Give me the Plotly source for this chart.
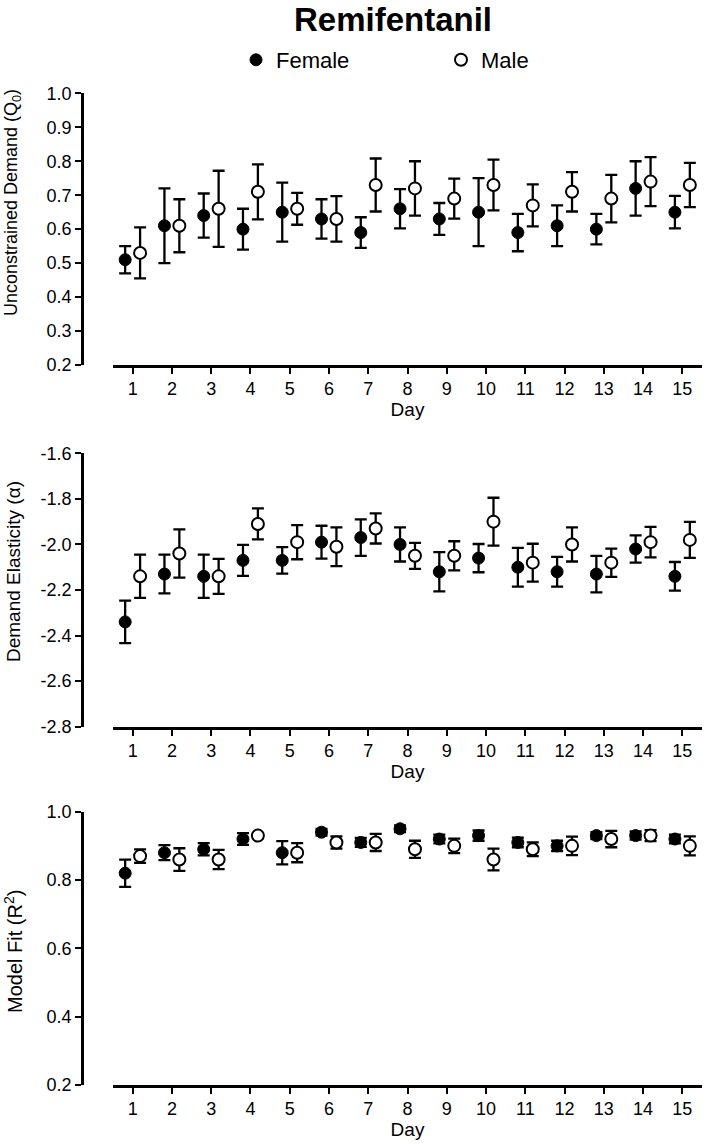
import plotly.graph_objects as go

# ---- data (mean +/- SEM) ----
days = list(range(1, 16))
day_labels = [str(d) for d in days]

q0_female = [0.51, 0.61, 0.64, 0.60, 0.65, 0.63, 0.59, 0.66, 0.63, 0.65, 0.59, 0.61, 0.60, 0.72, 0.65]
q0_female_sem = [0.04, 0.11, 0.065, 0.06, 0.087, 0.058, 0.045, 0.058, 0.047, 0.10, 0.055, 0.06, 0.045, 0.08, 0.048]
q0_male = [0.53, 0.61, 0.66, 0.71, 0.66, 0.63, 0.73, 0.72, 0.69, 0.73, 0.67, 0.71, 0.69, 0.74, 0.73]
q0_male_sem = [0.075, 0.078, 0.112, 0.081, 0.047, 0.067, 0.078, 0.08, 0.059, 0.075, 0.062, 0.058, 0.07, 0.072, 0.065]

alpha_female = [-2.34, -2.13, -2.14, -2.07, -2.07, -1.99, -1.97, -2.00, -2.12, -2.06, -2.10, -2.12, -2.13, -2.02, -2.14]
alpha_female_sem = [0.093, 0.085, 0.095, 0.068, 0.058, 0.072, 0.08, 0.075, 0.086, 0.062, 0.085, 0.065, 0.08, 0.06, 0.063]
alpha_male = [-2.14, -2.04, -2.14, -1.91, -1.99, -2.01, -1.93, -2.05, -2.05, -1.90, -2.08, -2.00, -2.08, -1.99, -1.98]
alpha_male_sem = [0.095, 0.106, 0.077, 0.068, 0.075, 0.085, 0.066, 0.057, 0.064, 0.105, 0.083, 0.075, 0.062, 0.067, 0.079]

r2_female = [0.82, 0.88, 0.89, 0.92, 0.88, 0.94, 0.91, 0.95, 0.92, 0.93, 0.91, 0.90, 0.93, 0.93, 0.92]
r2_female_sem = [0.04, 0.022, 0.018, 0.017, 0.034, 0.01, 0.013, 0.01, 0.013, 0.015, 0.014, 0.015, 0.01, 0.012, 0.013]
r2_male = [0.87, 0.86, 0.86, 0.93, 0.88, 0.91, 0.91, 0.89, 0.90, 0.86, 0.89, 0.90, 0.92, 0.93, 0.90]
r2_male_sem = [0.02, 0.033, 0.028, 0.008, 0.028, 0.018, 0.025, 0.025, 0.021, 0.032, 0.02, 0.027, 0.024, 0.016, 0.028]

q0_ticks = [0.2, 0.3, 0.4, 0.5, 0.6, 0.7, 0.8, 0.9, 1.0]
q0_ticktext = ["0.2", "0.3", "0.4", "0.5", "0.6", "0.7", "0.8", "0.9", "1.0"]
alpha_ticks = [-2.8, -2.6, -2.4, -2.2, -2.0, -1.8, -1.6]
alpha_ticktext = ["-2.8", "-2.6", "-2.4", "-2.2", "-2.0", "-1.8", "-1.6"]
r2_ticks = [0.2, 0.4, 0.6, 0.8, 1.0]
r2_ticktext = ["0.2", "0.4", "0.6", "0.8", "1.0"]

# ---- layout helpers (pixel -> paper) ----
W, H = 709, 1145
FONT = "Liberation Sans, Arial, sans-serif"
OFFSET = 0.19  # female left of the tick, male right


def fx(p):
    return p / W


def fy(p):
    return 1 - p / H


x_domain = [fx(113), fx(702)]
panels = [
    # (axis suffix, female, female sem, male, male sem, range, ticks, ticktext,
    #  y top px, y bottom px, title, title y px, title size)
    ("", q0_female, q0_female_sem, q0_male, q0_male_sem, [0.2, 1.0], q0_ticks, q0_ticktext,
     93.3, 365, "Unconstrained Demand (Q<sub>0</sub>)", 203, 18),
    ("2", alpha_female, alpha_female_sem, alpha_male, alpha_male_sem, [-2.8, -1.6], alpha_ticks, alpha_ticktext,
     453.3, 726.7, "Demand Elasticity (α)", 572, 19),
    ("3", r2_female, r2_female_sem, r2_male, r2_male_sem, [0.2, 1.0], r2_ticks, r2_ticktext,
     811.7, 1085, "Model Fit (R<sup>2</sup>)", 952, 20),
]

fig = go.Figure()
annotations = []
layout_axes = {}

for i, (sfx, fem, fem_sem, mal, mal_sem, yr, tv, tt, ytop, ybot, ytitle, ty, tsize) in enumerate(panels):
    xa = "x" + sfx
    ya = "y" + sfx
    eb = dict(type="data", visible=True, thickness=2.3, width=6, color="black")

    fig.add_trace(go.Scatter(
        x=[d - OFFSET for d in days], y=fem, xaxis=xa, yaxis=ya,
        mode="markers", name="Female", legendgroup="f", showlegend=(i == 0),
        marker=dict(symbol="circle", size=12, color="black", line=dict(color="black", width=1)),
        error_y=dict(array=fem_sem, **eb),
    ))
    fig.add_trace(go.Scatter(
        x=[d + OFFSET for d in days], y=mal, xaxis=xa, yaxis=ya,
        mode="markers", name="Male", legendgroup="m", showlegend=(i == 0),
        marker=dict(symbol="circle", size=12, color="white", line=dict(color="black", width=2)),
        error_y=dict(array=mal_sem, **eb),
    ))

    layout_axes["xaxis" + sfx] = dict(
        domain=x_domain, anchor=ya, range=[0.5, 15.5],
        tickmode="array", tickvals=days, ticktext=day_labels,
        ticks="outside", ticklen=6, tickwidth=2.3, tickcolor="black",
        showline=True, linewidth=2.6, linecolor="black",
        showgrid=False, zeroline=False, automargin=False,
        tickfont=dict(family=FONT, size=18, color="black"),
        title=dict(text="Day", font=dict(family=FONT, size=19, color="black"), standoff=2),
    )
    layout_axes["yaxis" + sfx] = dict(
        domain=[fy(ybot), fy(ytop)], anchor="free", position=fx(82), range=yr,
        tickmode="array", tickvals=tv, ticktext=tt,
        ticks="outside", ticklen=6, tickwidth=2.3, tickcolor="black",
        showline=True, linewidth=2.6, linecolor="black",
        showgrid=False, zeroline=False, automargin=False,
        tickfont=dict(family=FONT, size=18, color="black"),
    )
    annotations.append(dict(
        text=ytitle, x=fx(13), y=fy(ty), xref="paper", yref="paper",
        xanchor="center", yanchor="middle", textangle=-90, showarrow=False,
        font=dict(family=FONT, size=tsize, color="black"),
    ))

fig.update_layout(
    width=W, height=H,
    margin=dict(l=0, r=0, t=0, b=0, autoexpand=False),
    paper_bgcolor="white", plot_bgcolor="white",
    font=dict(family=FONT, color="black"),
    title=dict(text="<b>Remifentanil</b>", x=fx(393), y=fy(19), xanchor="center", yanchor="middle",
               font=dict(family=FONT, size=33, color="black")),
    showlegend=True,
    legend=dict(orientation="h", x=fx(236), y=fy(60), xanchor="left", yanchor="middle",
                entrywidth=160, entrywidthmode="pixels", bgcolor="rgba(0,0,0,0)",
                font=dict(family=FONT, size=22, color="black")),
    annotations=annotations,
    **layout_axes,
)

# drop the browser's default body margin so the figure sits at the page corner
fig.write_html("out.html", config={"displayModeBar": False},
               post_script="document.body.style.margin = '0';")
